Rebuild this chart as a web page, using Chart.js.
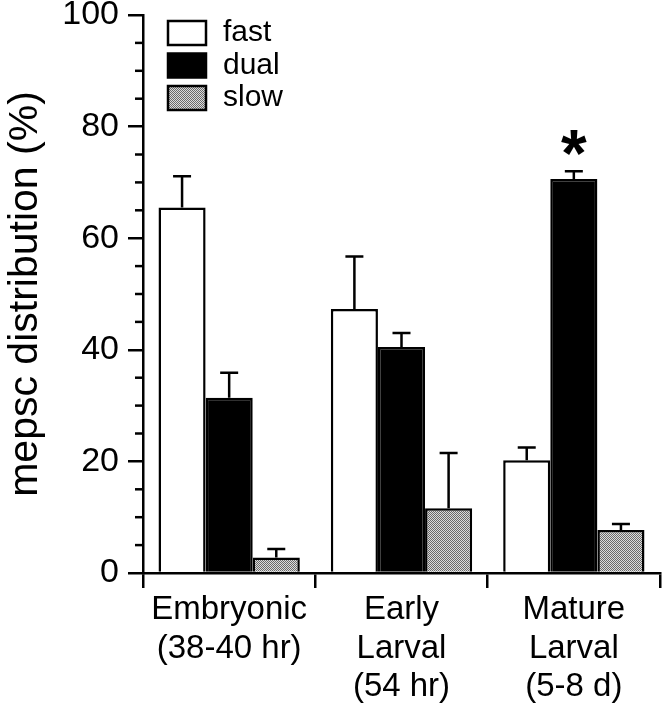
<!DOCTYPE html>
<html lang="en">
<head>
    <meta charset="UTF-8">
    <title>mepsc distribution</title>
    <script src="https://cdn.jsdelivr.net/npm/chart.js"></script>
    <style>
        body { margin: 0; background: #fff; }
        canvas { display: block; }
    </style>
</head>
<body>
<canvas id="chart" width="666" height="720"></canvas>

<script>
    // values (%), error = upper SEM bar
    const categories = [['Embryonic', '(38-40 hr)'], ['Early', 'Larval', '(54 hr)'], ['Mature', 'Larval', '(5-8 d)']];
    const seriesNames = ['fast', 'dual', 'slow'];
    const fastValues = [65.5, 47.3, 20.2];
    const fastErrors = [5.6, 9.4, 2.3];
    const dualValues = [31.4, 40.5, 70.6];
    const dualErrors = [4.5, 2.5, 1.4];
    const slowValues = [2.8, 11.6, 7.7];
    const slowErrors = [1.5, 9.9, 1.1];
    const dualMarks = ['', '', '*'];
    const yTicks = [0, 20, 40, 60, 80, 100];
    const yMinorStep = 5;

    const FONT = "'Liberation Sans', Arial, Helvetica, sans-serif";

    // stippled grey fill like the printed screen
    function makeStipple() {
        const c = document.createElement('canvas');
        c.width = 2; c.height = 2;
        const g = c.getContext('2d');
        g.fillStyle = '#dcdcdc';
        g.fillRect(0, 0, 2, 2);
        g.fillStyle = '#6a6a6a';
        g.fillRect(0, 0, 1, 1);
        g.fillRect(1, 1, 1, 1);
        return g.createPattern(c, 'repeat');
    }
    const stipple = makeStipple();

    const errorBars = {
        id: 'errorBars',
        afterDatasetsDraw(chart) {
            const ctx = chart.ctx;
            const yScale = chart.scales.y;
            ctx.save();
            ctx.strokeStyle = '#000';
            ctx.lineWidth = 2.5;
            chart.data.datasets.forEach((ds, i) => {
                const meta = chart.getDatasetMeta(i);
                meta.data.forEach((bar, j) => {
                    const top = yScale.getPixelForValue(ds.data[j] + ds.errors[j]);
                    ctx.beginPath();
                    ctx.moveTo(bar.x, bar.y);
                    ctx.lineTo(bar.x, top);
                    ctx.moveTo(bar.x - 9, top);
                    ctx.lineTo(bar.x + 9, top);
                    ctx.stroke();
                    const mark = ds.marks ? ds.marks[j] : '';
                    if (mark) {
                        ctx.fillStyle = '#000';
                        ctx.font = 'bold 66px ' + FONT;
                        ctx.textAlign = 'center';
                        ctx.textBaseline = 'alphabetic';
                        const m = ctx.measureText(mark);
                        const glyphBottom = top - 16;
                        ctx.fillText(mark, bar.x, glyphBottom - m.actualBoundingBoxDescent);
                    }
                });
            });
            ctx.restore();
        }
    };

    const minorTicks = {
        id: 'minorTicks',
        afterDraw(chart) {
            const ctx = chart.ctx;
            const yScale = chart.scales.y;
            ctx.save();
            ctx.strokeStyle = '#000';
            ctx.lineWidth = 2.5;
            for (let v = yScale.min; v <= yScale.max; v += yMinorStep) {
                if (yTicks.includes(v)) continue;
                const py = yScale.getPixelForValue(v);
                ctx.beginPath();
                ctx.moveTo(yScale.right - 8, py);
                ctx.lineTo(yScale.right, py);
                ctx.stroke();
            }
            ctx.restore();
        }
    };

    const boxLegend = {
        id: 'boxLegend',
        afterDraw(chart) {
            const ctx = chart.ctx;
            const area = chart.chartArea;
            const x0 = area.left + 25;
            const y0 = area.top + 6;
            ctx.save();
            ctx.font = '30px ' + FONT;
            ctx.textBaseline = 'middle';
            ctx.textAlign = 'left';
            chart.data.datasets.forEach((ds, i) => {
                const y = y0 + i * 32.5;
                ctx.fillStyle = ds.backgroundColor;
                ctx.fillRect(x0, y, 38, 24);
                ctx.strokeStyle = '#000';
                ctx.lineWidth = 2.5;
                ctx.strokeRect(x0, y, 38, 24);
                ctx.fillStyle = '#000';
                ctx.fillText(ds.label, x0 + 55, y + 12);
            });
            ctx.restore();
        }
    };

    new Chart(document.getElementById('chart'), {
        type: 'bar',
        data: {
            labels: categories,
            datasets: [
                { label: seriesNames[0], data: fastValues, errors: fastErrors, backgroundColor: '#ffffff', borderColor: '#000', borderWidth: 2.5 },
                { label: seriesNames[1], data: dualValues, errors: dualErrors, marks: dualMarks, backgroundColor: '#000000', borderColor: '#000', borderWidth: 2.5 },
                { label: seriesNames[2], data: slowValues, errors: slowErrors, backgroundColor: stipple, borderColor: '#000', borderWidth: 2.5 }
            ]
        },
        options: {
            responsive: false,
            animation: false,
            layout: { padding: { top: 15, right: 6, bottom: 0, left: 0 } },
            datasets: { bar: { categoryPercentage: 0.82, barPercentage: 1.0 } },
            plugins: {
                legend: { display: false },
                tooltip: { enabled: false }
            },
            scales: {
                x: {
                    offset: true,
                    afterFit(scale) { scale.height = 147; },
                    border: { color: '#000', width: 2.5 },
                    grid: { offset: true, drawOnChartArea: false, color: '#000', tickLength: 15, tickWidth: 2.5, lineWidth: 2.5 },
                    ticks: { color: '#000', padding: 2, maxRotation: 0, font: { family: FONT, size: 33, lineHeight: 1.18 } }
                },
                y: {
                    min: 0,
                    max: 100,
                    afterFit(scale) {
                        scale.width = 143;
                        scale.paddingTop = 0;
                        scale.paddingBottom = 0;
                    },
                    afterBuildTicks(scale) { scale.ticks = yTicks.map(v => ({ value: v })); },
                    border: { color: '#000', width: 2.5 },
                    grid: { drawOnChartArea: false, color: '#000', tickLength: 15, tickWidth: 2.5, lineWidth: 2.5 },
                    ticks: { color: '#000', padding: 9, font: { family: FONT, size: 34, lineHeight: 0.9 } },
                    title: {
                        display: true,
                        text: 'mepsc distribution (%)',
                        color: '#000',
                        padding: { top: 1, bottom: 0 },
                        font: { family: FONT, size: 41, lineHeight: 1.2 }
                    }
                }
            }
        },
        plugins: [errorBars, minorTicks, boxLegend]
    });
</script>
</body>
</html>
